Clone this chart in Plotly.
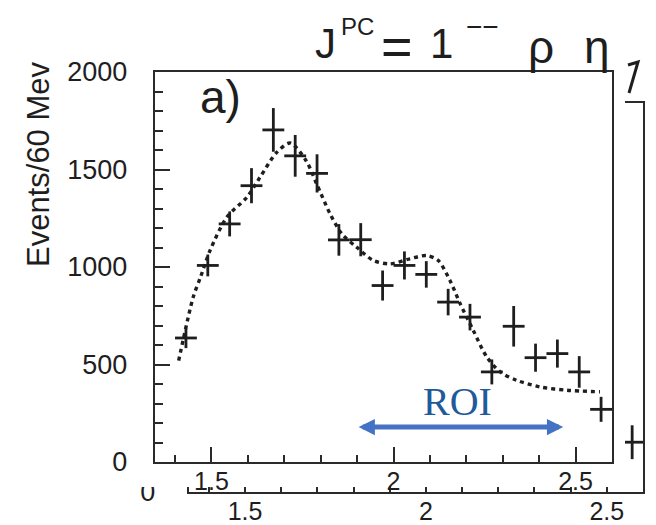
import plotly.graph_objects as go

W, H = 656, 525

# rho-eta invariant mass spectrum, 60 MeV bins (front panel)
mass = [1.43, 1.49, 1.55, 1.61, 1.67, 1.73, 1.79, 1.85, 1.91, 1.97,
        2.03, 2.09, 2.15, 2.21, 2.27, 2.33, 2.39, 2.45, 2.51, 2.57]
events = [636, 1008, 1221, 1417, 1703, 1570, 1480, 1139, 1140, 905,
          1008, 962, 820, 743, 462, 696, 535, 556, 462, 270]
errors = [52, 56, 64, 90, 112, 107, 98, 81, 85, 77,
          72, 68, 68, 68, 64, 104, 72, 72, 81, 64]
bin_half_width = 0.03

# fitted J^PC = 1-- contribution
fit_mass = [1.41, 1.45, 1.47, 1.496, 1.542, 1.597, 1.633, 1.679, 1.716,
            1.76, 1.789, 1.826, 1.858, 1.899, 1.945, 1.99, 2.045, 2.091,
            2.123, 2.155, 2.183, 2.219, 2.256, 2.293, 2.338, 2.402, 2.476, 2.567]
fit_events = [520, 846, 948, 1084, 1255, 1357, 1459, 1587, 1636,
              1545, 1426, 1272, 1170, 1101, 1033, 1016, 1042, 1059,
              1033, 931, 812, 675, 539, 462, 419, 385, 368, 360]

# rear panel: only its last bin shows past the front panel
bg_mass = [2.57]
bg_events = [256]
bg_errors = [87]

x_ticks = [1.5, 2.0, 2.5]
x_tick_text = ["1.5", "2", "2.5"]
y_ticks = [0, 500, 1000, 1500, 2000]
y_tick_text = ["0", "500", "1000", "1500", "2000"]

X_RANGE = [1.345, 2.600]
Y_RANGE = [0, 2000]

INK = "#1e1e1e"
FRAME = "#2a2a2a"
FONT = "Liberation Sans"
ROI_BLUE = "#4472C4"


def px_x(p):
    return p / W


def px_y(p):
    return 1 - p / H


def cross_style():
    return dict(
        mode="markers",
        marker=dict(size=1, color="rgba(0,0,0,0)"),
        hoverinfo="skip",
        showlegend=False,
    )


fig = go.Figure()

# rear panel
fig.add_trace(go.Scatter(
    x=bg_mass, y=bg_events, xaxis="x", yaxis="y",
    error_x=dict(type="constant", value=bin_half_width, width=0, thickness=2.8, color=INK),
    error_y=dict(type="data", array=bg_errors, width=0, thickness=2.8, color=INK),
    **cross_style()))

# opaque sheet of the front panel
fig.add_trace(go.Scatter(x=[None], y=[None], xaxis="x2", yaxis="y2",
                         showlegend=False, hoverinfo="skip"))

# front panel: fit curve and data
fig.add_trace(go.Scatter(
    x=fit_mass, y=fit_events, xaxis="x3", yaxis="y3", mode="lines",
    line=dict(color=INK, width=3.4, dash="4px,4px", shape="spline", smoothing=0.8),
    hoverinfo="skip", showlegend=False))
fig.add_trace(go.Scatter(
    x=mass, y=events, xaxis="x3", yaxis="y3",
    error_x=dict(type="constant", value=bin_half_width, width=0, thickness=2.8, color=INK),
    error_y=dict(type="data", array=errors, width=0, thickness=2.8, color=INK),
    **cross_style()))

x_tick_font = dict(family=FONT, size=25, color=INK)
y_tick_font = dict(family=FONT, size=27, color=INK)
line_style = dict(showline=True, linecolor=FRAME, linewidth=2.4, mirror=True,
                  showgrid=False, zeroline=False, automargin=False)

fig.update_layout(
    template="none",
    width=W, height=H,
    margin=dict(l=0, r=0, t=0, b=0, pad=0),
    paper_bgcolor="white", plot_bgcolor="white",
    showlegend=False,
    # rear panel axes
    xaxis=dict(domain=[px_x(189), px_x(643)], range=X_RANGE, anchor="y",
               tickvals=x_ticks, ticktext=x_tick_text, ticks="inside",
               ticklen=5, tickwidth=1.6, tickcolor=FRAME, tickfont=x_tick_font,
               ticklabelstandoff=-4,
               minor=dict(tick0=1.5, dtick=0.1, ticks="inside", ticklen=5,
                          tickwidth=1.6, tickcolor=FRAME),
               **line_style),
    yaxis=dict(domain=[px_y(492), px_y(103)], range=Y_RANGE, anchor="x",
               tickvals=[0], ticktext=["0"], ticks="", tickfont=y_tick_font,
               ticklabelstandoff=26, **line_style),
    # sheet
    xaxis2=dict(domain=[0, px_x(625)], anchor="y2", visible=False, range=[0, 1],
                automargin=False),
    yaxis2=dict(domain=[px_y(487), 1], anchor="x2", visible=False, range=[0, 1],
                automargin=False),
    # front panel axes
    xaxis3=dict(domain=[px_x(155), px_x(612)], range=X_RANGE, anchor="y3",
                tickvals=x_ticks, ticktext=x_tick_text, ticks="inside",
                ticklen=15, tickwidth=1.6, tickcolor=FRAME, tickfont=x_tick_font,
                ticklabelstandoff=-4,
                minor=dict(tick0=1.5, dtick=0.1, ticks="inside", ticklen=7,
                           tickwidth=1.6, tickcolor=FRAME),
                **line_style),
    yaxis3=dict(domain=[px_y(462), px_y(72)], range=Y_RANGE, anchor="x3",
                tickvals=y_ticks, ticktext=y_tick_text, ticks="inside",
                ticklen=15, tickwidth=1.6, tickcolor=FRAME, tickfont=y_tick_font,
                ticklabelstandoff=20,
                minor=dict(tick0=0, dtick=100, ticks="inside", ticklen=8,
                           tickwidth=1.6, tickcolor=FRAME),
                **line_style),
)

# panel title J^PC = 1--  rho eta, set piece by piece
title_parts = [
    ("J", 325, 44, 42),
    ("PC", 357, 27, 24),
    ("=", 397, 46, 54),
    ("1", 441, 43, 42),
    ("−−", 482, 26, 28),
    ("ρ", 541, 47, 46),
    ("η", 597, 47, 46),
]
annotations = [
    dict(text=t, x=px_x(cx), y=px_y(cy), xanchor="center", yanchor="middle",
         font=dict(family=FONT, size=s, color=INK))
    for t, cx, cy, s in title_parts
]
annotations += [
    # panel label
    dict(text="a)", x=px_x(198), y=px_y(97), xanchor="left", yanchor="middle",
         font=dict(family=FONT, size=46, color=INK)),
    # y-axis title
    dict(text="Events/60 Mev", x=px_x(38), y=px_y(164), textangle=-90,
         xanchor="center", yanchor="middle",
         font=dict(family=FONT, size=31, color=INK)),
    # region of interest
    dict(text="ROI", x=px_x(458), y=px_y(401), xanchor="center", yanchor="middle",
         font=dict(family="Liberation Serif", size=40, color="#1F5A9A")),
    dict(text="", xref="x3", yref="y3", axref="x3", ayref="y3",
         x=2.466, y=179.5, ax=1.900, ay=179.5,
         showarrow=True, arrowside="end+start",
         arrowhead=2, startarrowhead=2, arrowsize=0.65, startarrowsize=0.65,
         arrowwidth=5, arrowcolor=ROI_BLUE, standoff=0, startstandoff=0),
]
for a in annotations:
    a.setdefault("xref", "paper")
    a.setdefault("yref", "paper")
    a.setdefault("showarrow", False)
fig.update_layout(annotations=annotations)

# stroke of the rear panel's label peeking out above its frame
fig.add_shape(type="path", xref="paper", yref="paper", layer="above",
              path=f"M {px_x(628)},{px_y(65)} L {px_x(638)},{px_y(62)} L {px_x(629)},{px_y(93)}",
              line=dict(color=INK, width=3))

fig.write_html("out.html")
